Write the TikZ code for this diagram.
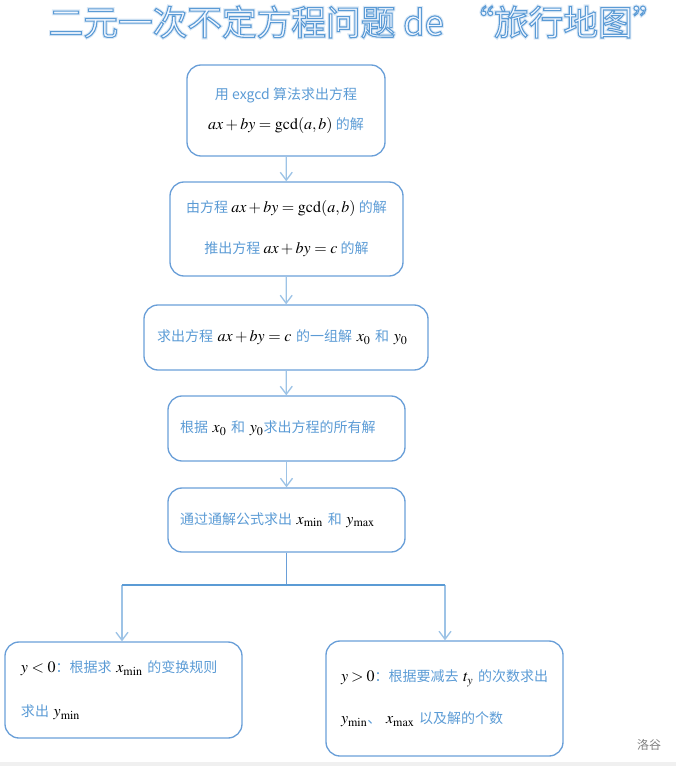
\documentclass[tikz,border=0pt]{standalone}
\usepackage{mathptmx}
\usepackage[no-math]{fontspec}
\setmainfont{Noto Sans CJK SC}
\newfontfamily\titlefont{Noto Sans CJK SC}
\usetikzlibrary{arrows.meta}
\definecolor{boxline}{HTML}{6A9FD8}
\definecolor{arrowline}{HTML}{9DC3E6}
\definecolor{textblue}{HTML}{5B9BD5}
\definecolor{titleblue}{HTML}{5B9BD5}
\definecolor{titleglow}{HTML}{DCE9F6}
\newcommand{\blk}[1]{\textcolor{black}{\fontsize{12pt}{13pt}\selectfont$#1$}}
\newcommand{\titletext}{二元一次不定方程问题 de\ \ “旅行地图”}
\tikzset{
  flowbox/.style={draw=boxline, line width=1pt, rounded corners=10.5pt,
    text=textblue, font=\fontsize{10.5pt}{13pt}\selectfont, inner sep=0pt},
  flowarrow/.style={draw=arrowline, line width=1pt,
    -{Straight Barb[length=6pt,width=9pt]}},
  titlestyle/.style={font=\titlefont\fontsize{26pt}{28pt}\selectfont},
}
\begin{document}
\begin{tikzpicture}[x=0.75pt,y=-0.75pt]
  \useasboundingbox (0,0) rectangle (676,766);
  \node[titlestyle, text=titleglow] (glow) at (358,22)
    {\special{pdf:literal direct 2 Tr 2.4 w}\titletext\special{pdf:literal direct 0 Tr}};
  \node[titlestyle, text=titleblue] (title) at (358,22)
    {\special{pdf:literal direct 2 Tr 0.8 w 0.95 0.97 1 rg}\titletext\special{pdf:literal direct 0 Tr}};
  \node[flowbox, minimum width=148.5pt, minimum height=68.25pt, align=center] (exgcd) at (286,110.5)
    {用 exgcd 算法求出方程\\[9.5pt] \blk{ax+by=\gcd(a,b)} 的解};
  \node[flowbox, minimum width=174.75pt, minimum height=70.5pt, align=center] (derive) at (286.5,229)
    {由方程 \blk{ax+by=\gcd(a,b)} 的解\\[17.75pt] 推出方程 \blk{ax+by=c} 的解};
  \node[flowbox, minimum width=213pt, minimum height=48.75pt, text width=193.5pt, align=left] (onesol) at (286,337.5)
    {求出方程 \blk{ax+by=c} 的一组解 \blk{x_0} 和 \blk{y_0}};
  \node[flowbox, minimum width=177.75pt, minimum height=48.75pt, text width=159.75pt, align=left] (allsol) at (286.5,428.5)
    {根据 \blk{x_0} 和 \blk{y_0}求出方程的所有解};
  \node[flowbox, minimum width=177.75pt, minimum height=48pt, text width=159.75pt, align=left] (general) at (286.5,520)
    {通过通解公式求出 \blk{x_{\min}} 和 \blk{y_{\max}}};
  \node[flowbox, minimum width=177.75pt, minimum height=72pt, text width=153.75pt, align=left] (yneg) at (123.5,690)
    {\blk{y<0}：根据求 \blk{x_{\min}} 的变换规则\\[20pt] 求出 \blk{y_{\min}}};
  \node[flowbox, minimum width=177.75pt, minimum height=86.25pt, text width=155.25pt, align=left] (ypos) at (444.5,698.5)
    {\blk{y>0}：根据要减去 \blk{t_y} 的次数求出\\[18.5pt] \blk{y_{\min}}、 \blk{x_{\max}} 以及解的个数};
  \node[text=gray, font=\fontsize{9pt}{10pt}\selectfont] (mark) at (649,745) {洛谷};
  \coordinate (split) at (286.5,585);
  \coordinate (leftend) at (122,585);
  \coordinate (rightend) at (445,585);
  \begin{scope}[flowarrow]
    \draw (exgcd) to (derive);
    \draw (derive) to (onesol);
    \draw (onesol) to (allsol);
    \draw (allsol) to (general);
    \draw (leftend) to (leftend |- yneg.north);
    \draw (rightend) to (rightend |- ypos.north);
  \end{scope}
  \draw[boxline, line width=1pt] (general) -- (split);
  \draw[textblue, line width=1pt] (leftend) -- (rightend);
  \fill[gray!12] (0,762) rectangle (676,766);
\end{tikzpicture}
\end{document}
